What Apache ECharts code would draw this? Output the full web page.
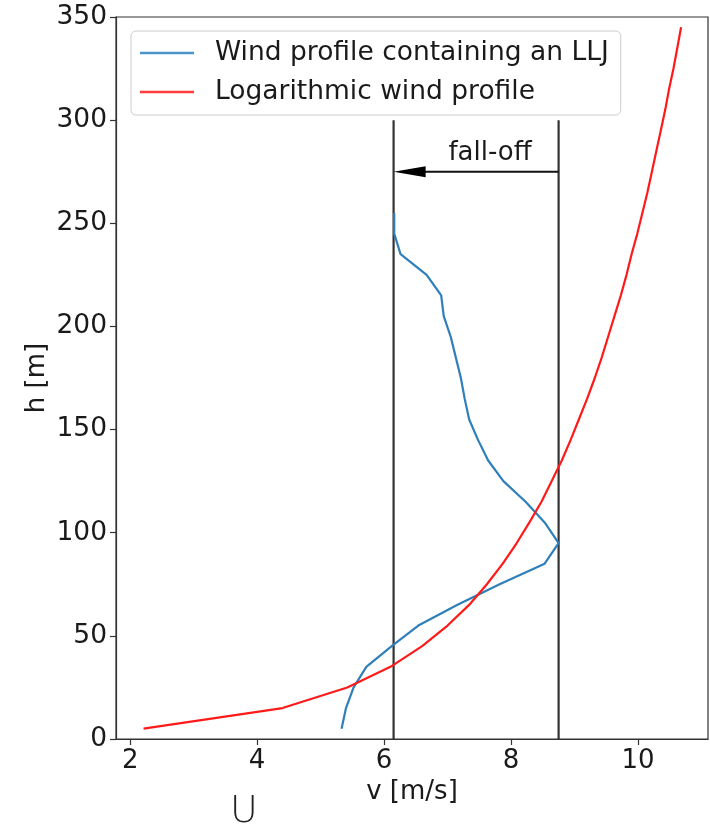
<!DOCTYPE html>
<html>
<head>
<meta charset="utf-8">
<script src="https://cdn.jsdelivr.net/npm/echarts@6/dist/echarts.min.js"></script>
<style>html,body{margin:0;padding:0;background:#fff}#c{width:710px;height:829px}</style>
</head>
<body>
<div id="c"></div>
<script>
// Wind profile containing an LLJ
const heightsLLJ = [5,15,25,35,45,55,65,75,85,95,105,115,125,135,145,155,165,175,185,195,205,215,225,235,245,255];
const windLLJ    = [5.33,5.40,5.52,5.72,6.12,6.54,7.15,7.82,8.53,8.75,8.53,8.23,7.88,7.64,7.48,7.34,7.27,7.21,7.13,7.05,6.94,6.90,6.67,6.26,6.16,6.16];
// Logarithmic wind profile
const heightsLog = [5,15,25,35,45,55,65,75,85,95,105,115,125,135,145,155,165,175,185,195,205,215,225,235,245,255,265,275,285,295,305,315,325,335,345];
const windLog    = [2.21,4.40,5.42,6.10,6.60,7.00,7.34,7.62,7.87,8.09,8.29,8.48,8.64,8.80,8.94,9.07,9.20,9.32,9.43,9.53,9.63,9.73,9.82,9.90,9.99,10.07,10.15,10.22,10.29,10.36,10.43,10.49,10.56,10.62,10.68];
// fall-off markers
const fallOffLow = 6.15;
const fallOffHigh = 8.75;
const markerTop = 300;
const arrowHeight = 275;
const labelPos = [7.67, 284];
const xTicks = [2,4,6,8,10];
const xRange = [1.776, 11.104];
const yRange = [0, 350];

const FONT = 'DejaVu Sans';
const pxPerUnit = (708 - 116) / (xRange[1] - xRange[0]);
const arrowLen = 32;

const chart = echarts.init(document.getElementById('c'), null, {renderer: 'canvas'});
chart.setOption({
  animation: false,
  backgroundColor: '#fff',
  grid: {left: 116, right: 2, top: 17, bottom: 90, show: true, borderColor: '#333', borderWidth: 1.2, containLabel: false},
  legend: {
    left: 131, top: 31, orient: 'vertical',
    data: [
      {name: 'Wind profile containing an LLJ', icon: 'rect', itemStyle: {color: '#4b94cc'}},
      {name: 'Logarithmic wind profile', icon: 'rect', itemStyle: {color: '#ff3a3a'}}
    ],
    itemWidth: 54, itemHeight: 2.5, itemGap: 9,
    padding: [7, 12, 8, 9],
    borderColor: '#cccccc', borderWidth: 1, borderRadius: 5,
    backgroundColor: 'rgba(255,255,255,0.85)',
    textStyle: {fontFamily: FONT, fontSize: 26.5, color: '#1a1a1a', lineHeight: 30, padding: [0, 0, 0, 16]}
  },
  xAxis: {
    type: 'value', min: xRange[0], max: xRange[1],
    name: 'v [m/s]', nameLocation: 'middle', nameGap: 38,
    nameTextStyle: {fontFamily: FONT, fontSize: 26, color: '#1a1a1a'},
    axisLine: {show: true, lineStyle: {color: '#333', width: 1.2}},
    axisTick: {show: true, length: 6, customValues: xTicks, lineStyle: {color: '#333', width: 1.2}},
    axisLabel: {customValues: xTicks, fontFamily: FONT, fontSize: 26, color: '#1a1a1a', margin: 9},
    splitLine: {show: false}
  },
  yAxis: {
    type: 'value', min: yRange[0], max: yRange[1], interval: 50,
    name: 'h [m]', nameLocation: 'middle', nameGap: 66, nameRotate: 90, nameMoveOverlap: false,
    nameTextStyle: {fontFamily: FONT, fontSize: 26, color: '#1a1a1a'},
    axisLine: {show: true, lineStyle: {color: '#333', width: 1.2}},
    axisTick: {show: true, length: 6, lineStyle: {color: '#333', width: 1.2}},
    axisLabel: {fontFamily: FONT, fontSize: 26.5, color: '#1a1a1a', margin: 9},
    splitLine: {show: false}
  },
  series: [
    {
      name: 'Wind profile containing an LLJ', type: 'line', symbol: 'none',
      data: windLLJ.map((v, i) => [v, heightsLLJ[i]]),
      lineStyle: {color: '#2f7fbb', width: 2.2}, itemStyle: {color: '#2f7fbb'}, z: 5
    },
    {
      name: 'Logarithmic wind profile', type: 'line', symbol: 'none',
      data: windLog.map((v, i) => [v, heightsLog[i]]),
      lineStyle: {color: '#ff1a1a', width: 2.2}, itemStyle: {color: '#ff1a1a'}, z: 5
    },
    {
      name: 'low', type: 'line', symbol: 'none', silent: true,
      data: [[fallOffLow, yRange[0]], [fallOffLow, markerTop]],
      lineStyle: {color: '#333', width: 2.2}, z: 3
    },
    {
      name: 'high', type: 'line', symbol: 'none', silent: true,
      data: [[fallOffHigh, yRange[0]], [fallOffHigh, markerTop]],
      lineStyle: {color: '#333', width: 2.2}, z: 3
    },
    {
      name: 'shaft', type: 'line', symbol: 'none', silent: true,
      data: [[fallOffHigh, arrowHeight], [fallOffLow + arrowLen / pxPerUnit * 0.9, arrowHeight]],
      lineStyle: {color: '#111', width: 2}, z: 4
    },
    {
      name: 'head', type: 'scatter', silent: true,
      symbol: 'triangle', symbolRotate: 90, symbolSize: [11, arrowLen],
      data: [[fallOffLow + arrowLen / 2 / pxPerUnit, arrowHeight]],
      itemStyle: {color: '#000', opacity: 1}, z: 6
    },
    {
      name: 'label', type: 'scatter', silent: true, symbolSize: 0,
      data: [labelPos],
      itemStyle: {opacity: 1},
      label: {show: true, position: 'inside', formatter: 'fall-off', fontFamily: FONT, fontSize: 26, color: '#1a1a1a', opacity: 1},
      z: 6
    }
  ],
  graphic: [
    {type: 'text', left: 230, top: 793, style: {text: 'U', fontFamily: FONT, fontSize: 38, fontWeight: 200, fill: '#222'}}
  ]
});
</script>
</body>
</html>
